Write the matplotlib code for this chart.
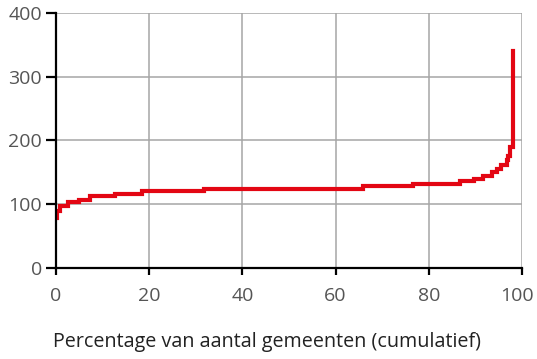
import matplotlib
matplotlib.use('Agg')
import matplotlib.pyplot as plt
import matplotlib.transforms as mtransforms

# cumulative share of municipalities (%) and the value at each step
pct = [0, 0.3, 0.9, 2.6, 5.0, 7.3, 12.7, 18.4, 31.8, 65.8, 76.7, 86.7, 89.6,
       91.7, 93.5, 94.6, 95.6, 96.7, 97.0, 97.4, 98.0, 98.1]
vals = [79, 90, 98, 103, 107, 113, 116, 120, 124, 128, 132, 136, 140,
        144, 150, 156, 162, 169, 176, 190, 200, 340]

x_ticks = [0, 20, 40, 60, 80, 100]
y_ticks = [0, 100, 200, 300, 400]

plt.rcParams['font.family'] = ['Open Sans', 'DejaVu Sans']

fig = plt.figure(figsize=(5.37, 3.59), dpi=100)
ax = fig.add_axes([0.1043, 0.2535, 0.8677, 0.7103])

ax.step(pct, vals, where='post', color='#e30613', linewidth=3,
        solid_joinstyle='miter', zorder=3)

ax.set_xlim(0, 100)
ax.set_ylim(0, 400)
ax.set_xticks(x_ticks)
ax.set_yticks(y_ticks)

# grey grid, black axis lines
ax.grid(True, color='#a6a6a6', linewidth=1.1)
ax.set_axisbelow(True)
for side in ['top', 'right']:
    ax.spines[side].set_visible(False)
for side in ['left', 'bottom']:
    ax.spines[side].set_color('black')
    ax.spines[side].set_linewidth(1.6)
    ax.spines[side].set_zorder(4)

ax.tick_params(axis='both', direction='out', colors='black', width=1.6,
               labelcolor='#555555', labelsize=14)
ax.tick_params(axis='y', length=7, pad=3)
ax.tick_params(axis='x', length=5, pad=9)

# nudge the last x label so it stays inside the image
last = ax.get_xticklabels()[-1]
last.set_transform(last.get_transform() +
                   mtransforms.ScaledTranslation(-5 / 100, 0, fig.dpi_scale_trans))

# axis title, left-aligned just under the plot
fig.text(53 / 537, 1 - 342 / 359, 'Percentage van aantal gemeenten (cumulatief)',
         fontsize=14.2, color='#222222', ha='left', va='center')

fig.savefig('out.png', dpi=100)
